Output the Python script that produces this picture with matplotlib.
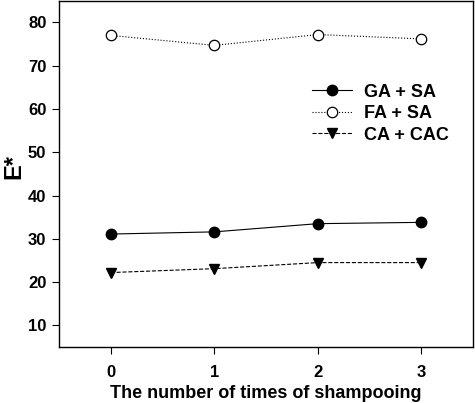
import matplotlib
matplotlib.use("Agg")
import matplotlib.pyplot as plt

plt.rcParams['font.family'] = ['Liberation Sans', 'DejaVu Sans']
plt.rcParams['font.weight'] = 'bold'

shampoo = [0, 1, 2, 3]
ga_sa = [31.1, 31.6, 33.5, 33.8]
fa_sa = [77.0, 74.7, 77.2, 76.2]
ca_cac = [22.2, 23.1, 24.5, 24.5]

fig = plt.figure(figsize=(4.75, 4.03), dpi=100)
ax = fig.add_axes([0.124, 0.139, 0.872, 0.859])

ax.plot(shampoo, ga_sa, '-', color='black', lw=0.8, marker='o', ms=7.5,
        mfc='black', mec='black', label='GA + SA')
ax.plot(shampoo, fa_sa, ':', color='black', lw=0.8, marker='o', ms=7.5,
        mfc='white', mec='black', mew=0.9, label='FA + SA')
ax.plot(shampoo, ca_cac, '--', color='black', lw=0.8, marker='v', ms=7.5,
        mfc='black', mec='black', label='CA + CAC')

ax.set_xlim(-0.5, 3.5)
ax.set_ylim(5, 85)
ax.set_xticks(shampoo)
ax.set_yticks([10, 20, 30, 40, 50, 60, 70, 80])
ax.tick_params(direction='out', length=5, width=0.8, labelsize=12, pad=4)
ax.tick_params(axis='x', pad=8)
for lab in ax.get_xticklabels() + ax.get_yticklabels():
    lab.set_fontweight('bold')
for s in ax.spines.values():
    s.set_linewidth(1.0)

ax.set_xlabel('The number of times of shampooing', fontsize=13, fontweight='bold')
ax.set_ylabel('E*', fontsize=17, fontweight='bold')
ax.xaxis.set_label_coords(0.5, -0.11)
ax.yaxis.set_label_coords(-0.08, 0.52)

leg = ax.legend(loc='center left', bbox_to_anchor=(0.572, 0.674), frameon=False,
                prop={'weight': 'bold', 'size': 13}, handlelength=2.2,
                handletextpad=0.65, labelspacing=0.25)

fig.savefig('out.png', dpi=100)
